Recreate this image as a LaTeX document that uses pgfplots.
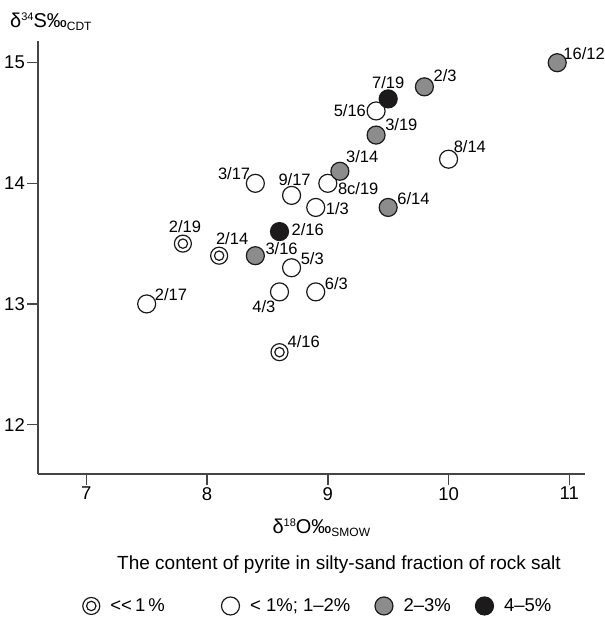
\documentclass[border=0pt]{standalone}
\usepackage{fontspec}
\setmainfont{Liberation Sans}
\usepackage{pgfplots}
\pgfplotsset{compat=1.18}
\definecolor{axgray}{HTML}{454545}
\definecolor{ptgray}{HTML}{8C8C8C}
\definecolor{ptblack}{HTML}{1C1A1A}
\definecolor{ptline}{HTML}{1A1A1A}

\begin{document}
\begin{tikzpicture}
\path (-38pt,-145pt) rectangle (567pt,474pt);
\begin{axis}[
  at={(0pt,0pt)}, anchor=south west,
  scale only axis, width=547pt, height=433pt,
  xmin=6.60, xmax=11.13, ymin=11.59, ymax=15.18,
  axis x line=bottom, axis y line=left,
  axis line style={-, draw=axgray, line width=1.6pt},
  x axis line style={-}, y axis line style={-},
  tick style={draw=axgray, line width=1.4pt},
  tick align=outside, major tick length=11pt,
  xtick={7,8,9,10,11}, ytick={12,13,14,15},
  /pgf/number format/assume math mode=true,
  ticklabel style={font=\fontsize{18.5}{18.5}\selectfont},
  xticklabel style={inner sep=2pt},
  yticklabel style={inner sep=2pt},
  clip=false,
  legend columns=4,
  legend style={draw=none, fill=none, at={(0.0804,-0.3048)}, anchor=west,
    font=\fontsize{18.5}{18.5}\selectfont, inner sep=0pt,
    /tikz/every odd column/.append style={column sep=8pt},
    /tikz/every even column/.append style={column sep=22pt}},
  legend cell align=left,
]
% << 1 %
\addplot[only marks, mark=*, mark size=8.5pt, mark options={draw=ptline, fill=white, line width=1.2pt},
  legend image code/.code={\draw[draw=ptline, fill=white, line width=1.2pt] (8.5pt,0pt) circle (8.5pt);
    \draw[draw=ptline, line width=1.2pt] (8.5pt,0pt) circle (4.7pt);}]
  coordinates {(7.8,13.5) (8.1,13.4) (8.6,12.6)};
\addlegendentry{<{}<\,1\,\%\rule{32pt}{0pt}}
\addplot[only marks, mark=o, mark size=4.7pt, mark options={draw=ptline, line width=1.2pt}, forget plot]
  coordinates {(7.8,13.5) (8.1,13.4) (8.6,12.6)};
% < 1%; 1-2%
\addplot[only marks, mark=*, mark size=9pt, mark options={draw=ptline, fill=white, line width=1.2pt},
  legend image code/.code={\draw[draw=ptline, fill=white, line width=1.2pt] (9pt,0pt) circle (9pt);}]
  coordinates {(7.5,13.0) (8.4,14.0) (8.7,13.9) (9.0,14.0) (8.9,13.8) (9.4,14.6)
               (10.0,14.2) (8.7,13.3) (8.6,13.1) (8.9,13.1)};
\addlegendentry{< 1\%; 1--2\%}
% 2-3%
\addplot[only marks, mark=*, mark size=9pt, mark options={draw=ptline, fill=ptgray, line width=1.2pt},
  legend image code/.code={\draw[draw=ptline, fill=ptgray, line width=1.2pt] (9pt,0pt) circle (9pt);}]
  coordinates {(10.9,15.0) (9.8,14.8) (9.4,14.4) (9.1,14.1) (9.5,13.8) (8.4,13.4)};
\addlegendentry{2--3\%}
% 4-5%
\addplot[only marks, mark=*, mark size=9pt, mark options={draw=ptline, fill=ptblack, line width=1.2pt},
  legend image code/.code={\draw[draw=ptline, fill=ptblack, line width=1.2pt] (9pt,0pt) circle (9pt);}]
  coordinates {(9.5,14.7) (8.6,13.6)};
\addlegendentry{4--5\%}

\tikzset{lab/.style={inner sep=0pt, font=\fontsize{16.5}{16.5}\selectfont}}
\node[lab, anchor=south west] at ([shift={(6pt,3pt)}]axis cs:10.9,15.0) {16/12};
\node[lab, anchor=south west] at ([shift={(9pt,5pt)}]axis cs:9.8,14.8) {2/3};
\node[lab, anchor=south] at ([shift={(0pt,10pt)}]axis cs:9.5,14.7) {7/19};
\node[lab, anchor=east] at ([shift={(-10pt,0pt)}]axis cs:9.4,14.6) {5/16};
\node[lab, anchor=south west] at ([shift={(9pt,4pt)}]axis cs:9.4,14.4) {3/19};
\node[lab, anchor=south west] at ([shift={(6pt,8pt)}]axis cs:9.1,14.1) {3/14};
\node[lab, anchor=south west] at ([shift={(5pt,6pt)}]axis cs:10.0,14.2) {8/14};
\node[lab, anchor=west] at ([shift={(10pt,-5pt)}]axis cs:9.0,14.0) {8c/19};
\node[lab, anchor=west] at ([shift={(10pt,-1pt)}]axis cs:8.9,13.8) {1/3};
\node[lab, anchor=south west] at ([shift={(9pt,3pt)}]axis cs:9.5,13.8) {6/14};
\node[lab, anchor=south east] at ([shift={(-5pt,3pt)}]axis cs:8.4,14.0) {3/17};
\node[lab, anchor=south] at ([shift={(3pt,10pt)}]axis cs:8.7,13.9) {9/17};
\node[lab, anchor=west] at ([shift={(12pt,2pt)}]axis cs:8.6,13.6) {2/16};
\node[lab, anchor=south] at ([shift={(2pt,11pt)}]axis cs:7.8,13.5) {2/19};
\node[lab, anchor=south] at ([shift={(13pt,11pt)}]axis cs:8.1,13.4) {2/14};
\node[lab, anchor=south west] at ([shift={(10pt,1pt)}]axis cs:8.4,13.4) {3/16};
\node[lab, anchor=south west] at ([shift={(9pt,3pt)}]axis cs:8.7,13.3) {5/3};
\node[lab, anchor=south west] at ([shift={(9pt,2pt)}]axis cs:8.9,13.1) {6/3};
\node[lab, anchor=north east] at ([shift={(-4pt,-8pt)}]axis cs:8.6,13.1) {4/3};
\node[lab, anchor=south west] at ([shift={(8pt,3pt)}]axis cs:7.5,13.0) {2/17};
\node[lab, anchor=south west] at ([shift={(8pt,4pt)}]axis cs:8.6,12.6) {4/16};

% axis labels
\node[anchor=base west, inner sep=0pt, font=\fontsize{20}{20}\selectfont]
  at (rel axis cs:-0.0512,1.0323)
  {δ{\fontsize{11}{11}\selectfont\raisebox{7pt}{34}}S‰{\fontsize{12}{12}\selectfont\raisebox{-3pt}{CDT}}};
\node[anchor=base, inner sep=0pt, font=\fontsize{20}{20}\selectfont]
  at (rel axis cs:0.518,-0.1363)
  {δ{\fontsize{11}{11}\selectfont\raisebox{7pt}{18}}O‰{\fontsize{12}{12}\selectfont\raisebox{-3pt}{SMOW}}};
\node[anchor=base, inner sep=0pt, font=\fontsize{19}{19}\selectfont]
  at (rel axis cs:0.5503,-0.2217)
  {The content of pyrite in silty-sand fraction of rock salt};
\end{axis}
\end{tikzpicture}
\end{document}
